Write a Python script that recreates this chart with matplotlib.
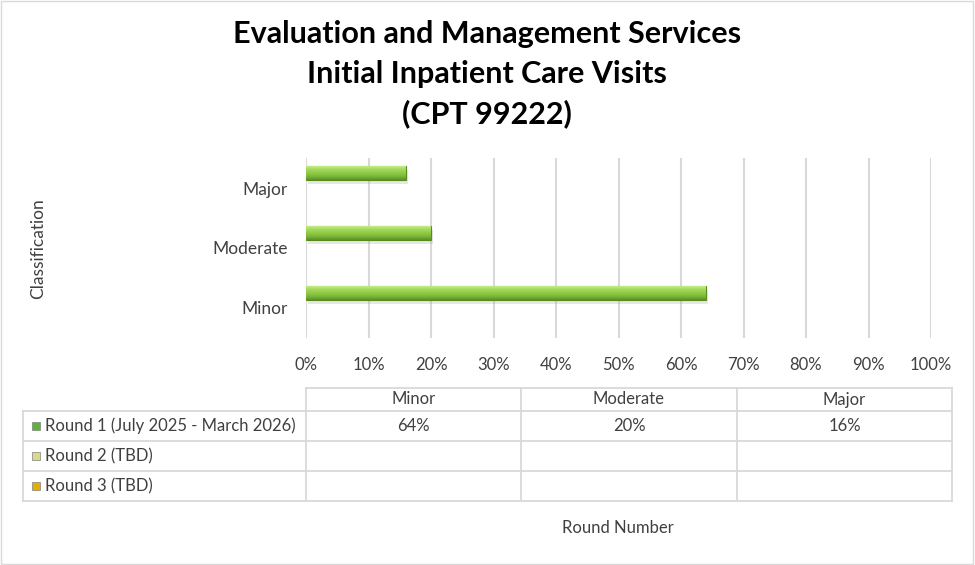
import numpy as np
import matplotlib.pyplot as plt
import matplotlib.patheffects as pe
from matplotlib.colors import LinearSegmentedColormap

plt.rcParams['font.family'] = ['Lato', 'DejaVu Sans']

# data
categories = ['Minor', 'Moderate', 'Major']
series_names = ['Round 1 (July 2025 - March 2026)', 'Round 2 (TBD)', 'Round 3 (TBD)']
series_values = [
    [64, 20, 16],
    [None, None, None],
    [None, None, None],
]
x_ticks = [0, 10, 20, 30, 40, 50, 60, 70, 80, 90, 100]
title_lines = ['Evaluation and Management Services',
               'Initial Inpatient Care Visits',
               '(CPT 99222)']
key_colors = ['#5DB33A', '#D9D98A', '#E0B000']

W, H = 975, 565
fig = plt.figure(figsize=(W / 100, H / 100), dpi=100, facecolor='white')
fig.patches.append(plt.Rectangle((0.001, 0.001), 0.997, 0.997, transform=fig.transFigure,
                                 fill=False, edgecolor='#D9D9D9', linewidth=1))

# main bar axes (pixel box: x 306..931, y 158..338)
ax = fig.add_axes([306 / W, 1 - 338 / H, (931 - 306) / W, 180 / H])
ax.set_xlim(0, 100)
ax.set_ylim(-0.5, 2.5)
for s in ax.spines.values():
    s.set_visible(False)
ax.set_xticks(x_ticks)
ax.set_xticklabels([f'{t}%' for t in x_ticks], fontsize=12, color='#404040')
ax.set_yticks(range(len(categories)))
ax.set_yticklabels(categories, fontsize=12.5, color='#404040')
ax.tick_params(length=0, pad=14)
ax.tick_params(axis='y', pad=13)
ax.grid(axis='x', color='#D9D9D9', linewidth=1.5)
ax.set_axisbelow(True)

grad = LinearSegmentedColormap.from_list('g', ['#5A9224', '#7DB83A', '#92CC48', '#A9DC62', '#CDF294'])
y = np.arange(len(categories))
vals = [v if v is not None else 0 for v in series_values[0]]
bars = ax.barh(y + 0.25, vals, height=0.235, color='#8CC63F', edgecolor='#5A8A1E', linewidth=0.8,
               path_effects=[pe.SimplePatchShadow(offset=(1.5, -3), shadow_rgbFace='#A0A0A0', alpha=0.25),
                             pe.Normal()], zorder=3)
g = np.linspace(0, 1, 64).reshape(-1, 1)
for b in bars:
    x0, y0, w, h = b.get_x(), b.get_y(), b.get_width(), b.get_height()
    im = ax.imshow(g, cmap=grad, aspect='auto', extent=(x0, x0 + w, y0, y0 + h),
                   origin='lower', zorder=4)
    im.set_clip_path(b)
ax.set_xlim(0, 100)
ax.set_ylim(-0.5, 2.5)

fig.text(38 / W, 1 - 249 / H, 'Classification', rotation=90, ha='center', va='center',
         fontsize=12.5, color='#404040')

for i, line in enumerate(title_lines):
    fig.text(487 / W, 1 - (34 + 40 * i) / H, line, ha='center', va='center',
             fontsize=22, fontweight='bold', color='black')

# data table overlay in pixel coordinates
tab = fig.add_axes([0, 0, 1, 1])
tab.set_xlim(0, W)
tab.set_ylim(H, 0)
tab.axis('off')
tab.patch.set_alpha(0)

col_x = [306, 521, 737, 952]
row_y = [388, 411, 441, 471, 501]
lc = '#D9D9D9'
tab.plot([306, 952], [388, 388], color=lc, lw=1.3)
for yy in row_y[1:]:
    tab.plot([23, 952], [yy, yy], color=lc, lw=1.3)
for xx in col_x:
    tab.plot([xx, xx], [388, 501], color=lc, lw=1.3)
tab.plot([23, 23], [411, 501], color=lc, lw=1.3)

for j, c in enumerate(categories):
    tab.text((col_x[j] + col_x[j + 1]) / 2, 399.5, c, ha='center', va='center',
             fontsize=12, color='#404040')

for i, name in enumerate(series_names):
    yc = (row_y[i + 1] + row_y[i + 2]) / 2
    tab.add_patch(plt.Rectangle((32, yc - 4), 8, 8, facecolor=key_colors[i],
                                edgecolor='#808080', linewidth=0.5))
    tab.text(45, yc, name, ha='left', va='center', fontsize=12, color='#404040')
    for j, v in enumerate(series_values[i]):
        if v is not None:
            tab.text((col_x[j] + col_x[j + 1]) / 2, yc, f'{v}%', ha='center', va='center',
                     fontsize=12, color='#404040')

fig.text(618 / W, 1 - 528 / H, 'Round Number', ha='center', va='center',
         fontsize=12, color='#404040')

fig.savefig('out.png', dpi=100)
